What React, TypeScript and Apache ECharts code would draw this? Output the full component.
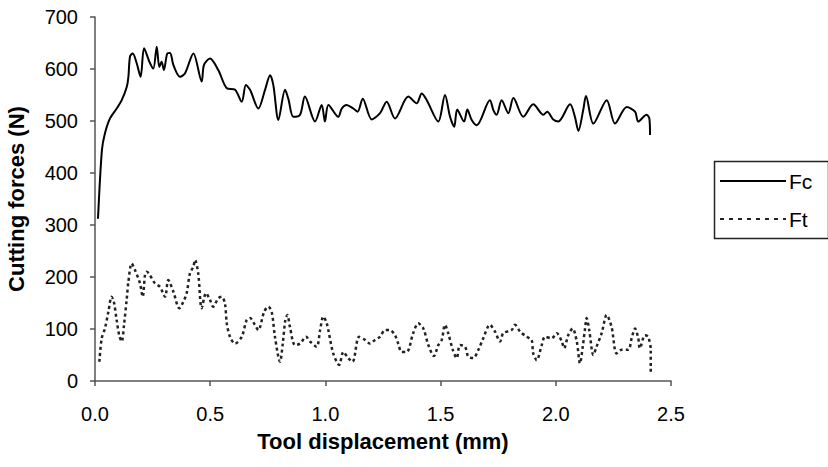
import React, { useEffect, useRef } from "react";
import * as echarts from "echarts";

const xTicks = [0, 0.5, 1.0, 1.5, 2.0, 2.5];
const yTicks = [0, 100, 200, 300, 400, 500, 600, 700];
const seriesNames = ["Fc", "Ft"];

const fcPoints: [number, number][] = [
  [0.013, 312], [0.030, 444], [0.043, 476], [0.065, 505], [0.094, 524], [0.116, 540],
  [0.138, 566], [0.145, 585], [0.152, 624], [0.164, 630], [0.181, 611], [0.198, 585],
  [0.213, 640], [0.236, 614], [0.253, 601], [0.268, 643], [0.279, 604], [0.289, 614],
  [0.299, 598], [0.314, 630], [0.326, 631], [0.340, 608], [0.369, 585], [0.391, 592],
  [0.427, 630], [0.463, 576], [0.473, 608], [0.499, 620], [0.535, 598], [0.572, 563],
  [0.608, 560], [0.637, 537], [0.655, 569], [0.673, 560], [0.709, 524], [0.738, 560],
  [0.760, 588], [0.774, 569], [0.796, 502], [0.825, 560], [0.839, 543], [0.861, 508],
  [0.890, 512], [0.911, 547], [0.955, 499], [0.984, 531], [0.998, 499], [1.013, 531],
  [1.056, 508], [1.071, 524], [1.092, 531], [1.121, 524], [1.140, 518], [1.162, 543],
  [1.201, 503], [1.237, 515], [1.266, 537], [1.302, 505], [1.360, 547], [1.396, 534],
  [1.418, 553], [1.440, 540], [1.490, 499], [1.519, 550], [1.541, 508], [1.559, 489],
  [1.572, 522], [1.602, 499], [1.616, 522], [1.635, 502], [1.657, 492], [1.714, 540],
  [1.729, 521], [1.743, 512], [1.765, 540], [1.794, 515], [1.816, 544], [1.859, 508],
  [1.902, 532], [1.946, 512], [1.963, 518], [1.989, 503], [2.011, 499], [2.062, 532],
  [2.083, 508], [2.098, 481], [2.119, 521], [2.131, 548], [2.163, 495], [2.221, 540],
  [2.257, 495], [2.308, 527], [2.344, 518], [2.358, 499], [2.394, 512], [2.406, 505],
  [2.409, 473],
];

const ftPoints: [number, number][] = [
  [0.019, 37], [0.029, 82], [0.043, 101], [0.058, 133], [0.072, 162], [0.082, 152],
  [0.094, 117], [0.105, 88], [0.116, 76], [0.126, 108], [0.138, 159], [0.145, 191],
  [0.159, 226], [0.174, 213], [0.195, 188], [0.207, 162], [0.217, 204], [0.224, 210],
  [0.260, 188], [0.282, 181], [0.304, 162], [0.318, 194], [0.340, 172], [0.366, 140],
  [0.383, 152], [0.398, 169], [0.412, 207], [0.427, 220], [0.434, 233], [0.448, 207],
  [0.463, 140], [0.482, 169], [0.499, 156], [0.513, 143], [0.535, 159], [0.550, 162],
  [0.564, 149], [0.572, 111], [0.586, 85], [0.608, 72], [0.637, 85], [0.658, 117],
  [0.673, 121], [0.694, 108], [0.709, 98], [0.734, 133], [0.752, 143], [0.767, 133],
  [0.781, 85], [0.803, 37], [0.815, 72], [0.826, 117], [0.835, 127], [0.846, 104],
  [0.868, 69], [0.890, 72], [0.916, 85], [0.933, 76], [0.962, 66], [0.977, 98],
  [0.991, 124], [1.006, 111], [1.034, 53], [1.060, 31], [1.078, 56], [1.099, 44],
  [1.118, 37], [1.146, 85], [1.172, 79], [1.194, 72], [1.215, 79], [1.237, 85],
  [1.259, 98], [1.280, 98], [1.302, 88], [1.316, 72], [1.331, 56], [1.353, 56],
  [1.381, 92], [1.403, 111], [1.425, 101], [1.447, 69], [1.471, 48], [1.490, 69],
  [1.505, 79], [1.519, 108], [1.533, 92], [1.553, 60], [1.570, 44], [1.584, 69],
  [1.606, 66], [1.620, 47], [1.642, 44], [1.664, 60], [1.685, 82], [1.714, 108],
  [1.736, 95], [1.758, 76], [1.772, 92], [1.808, 98], [1.823, 108], [1.845, 95],
  [1.874, 85], [1.895, 79], [1.902, 53], [1.917, 40], [1.939, 69], [1.953, 85],
  [1.982, 82], [2.004, 92], [2.026, 76], [2.036, 63], [2.054, 88], [2.073, 101],
  [2.091, 76], [2.105, 34], [2.117, 66], [2.127, 101], [2.134, 121], [2.145, 98],
  [2.163, 50], [2.177, 66], [2.199, 92], [2.221, 127], [2.242, 104], [2.264, 53],
  [2.286, 60], [2.315, 60], [2.329, 82], [2.344, 101], [2.358, 82], [2.365, 63],
  [2.387, 88], [2.401, 85], [2.412, 60], [2.412, 12],
];

const FONT = "'Liberation Sans', Arial, sans-serif";
const AXIS_COLOR = "#555";
const FT_DASH = [3, 3];

export default function App() {
  const ref = useRef<HTMLDivElement>(null);
  useEffect(() => {
    if (!ref.current) return;
    const chart = echarts.init(ref.current, null, { renderer: "svg" });
    chart.setOption({
      animation: false,
      backgroundColor: "#fff",
      textStyle: { fontFamily: FONT },
      grid: { left: 95, top: 17, width: 576, height: 364, containLabel: false, outerBoundsMode: "none" },
      xAxis: {
        type: "value",
        min: xTicks[0],
        max: xTicks[xTicks.length - 1],
        interval: 0.5,
        name: "Tool displacement (mm)",
        nameLocation: "middle",
        nameGap: 49,
        nameTextStyle: { fontSize: 22, fontWeight: "bold", color: "#000", fontFamily: FONT },
        axisLine: { show: true, lineStyle: { color: AXIS_COLOR, width: 1.5 } },
        axisTick: { show: true, inside: false, length: 5, lineStyle: { color: AXIS_COLOR, width: 1.5 } },
        axisLabel: {
          fontSize: 20,
          color: "#000",
          margin: 23,
          fontFamily: FONT,
          formatter: (v: number) => v.toFixed(1),
        },
        splitLine: { show: false },
      },
      yAxis: {
        type: "value",
        min: yTicks[0],
        max: yTicks[yTicks.length - 1],
        interval: 100,
        name: "Cutting forces (N)",
        nameLocation: "middle",
        nameGap: 68,
        nameTextStyle: { fontSize: 22, fontWeight: "bold", color: "#000", fontFamily: FONT },
        axisLine: { show: true, lineStyle: { color: AXIS_COLOR, width: 1.5 } },
        axisTick: { show: true, inside: false, length: 5, lineStyle: { color: AXIS_COLOR, width: 1.5 } },
        axisLabel: { fontSize: 20, color: "#000", margin: 17, fontFamily: FONT },
        splitLine: { show: false },
      },
      legend: { show: false },
      graphic: [
        {
          type: "rect",
          left: 712,
          top: 159,
          shape: { width: 114, height: 77 },
          style: { fill: "none", stroke: "#222", lineWidth: 1.5 },
          silent: true,
        },
        {
          type: "line",
          shape: { x1: 720, y1: 181, x2: 786, y2: 181 },
          style: { stroke: "#000", lineWidth: 2 },
          silent: true,
        },
        {
          type: "text",
          x: 789,
          y: 181,
          style: { text: seriesNames[0], fontSize: 21, fontFamily: FONT, fill: "#000", verticalAlign: "middle", align: "left" },
          silent: true,
        },
        {
          type: "line",
          shape: { x1: 720, y1: 219, x2: 786, y2: 219 },
          style: { stroke: "#222", lineWidth: 2, lineDash: [4, 5] },
          silent: true,
        },
        {
          type: "text",
          x: 789,
          y: 219,
          style: { text: seriesNames[1], fontSize: 21, fontFamily: FONT, fill: "#000", verticalAlign: "middle", align: "left" },
          silent: true,
        },
      ],
      series: [
        {
          name: seriesNames[0],
          type: "line",
          data: fcPoints,
          showSymbol: false,
          symbol: "none",
          smooth: 0.3,
          lineStyle: { color: "#000", width: 2 },
          itemStyle: { color: "#000" },
        },
        {
          name: seriesNames[1],
          type: "line",
          data: ftPoints,
          showSymbol: false,
          symbol: "none",
          smooth: 0.3,
          lineStyle: { color: "#222", width: 2.5, type: FT_DASH },
          itemStyle: { color: "#222" },
        },
      ],
    });
    return () => chart.dispose();
  }, []);
  return <div ref={ref} style={{ width: 828, height: 467, position: "absolute", left: 0, top: 0 }} />;
}
